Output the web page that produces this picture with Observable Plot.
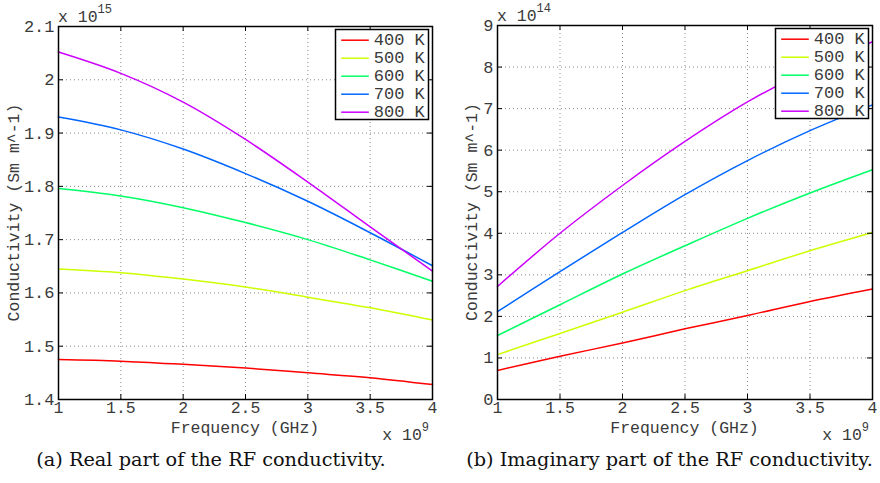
<!DOCTYPE html>
<html>
<head>
<meta charset="utf-8">
<script src="https://cdn.jsdelivr.net/npm/d3@7"></script>
<script src="https://cdn.jsdelivr.net/npm/@observablehq/plot@0.6"></script>
<style>
  html, body { margin: 0; padding: 0; background: #fff; }
  #wrap { position: relative; width: 880px; height: 483px; background: #fff; overflow: hidden; }
  .panel { position: absolute; top: 0; }
  .cap { position: absolute; top: 450px; font-family: "DejaVu Serif", serif; font-size: 19.3px; line-height: 19px; color: #111; text-align: center; white-space: nowrap; }
</style>
</head>
<body>
<div id="wrap">
  <div class="panel" id="pa" style="left:0px"></div>
  <div class="panel" id="pb" style="left:440px"></div>
  <div class="cap" id="ca" style="left:0px; width:422px;">(a) Real part of the RF conductivity.</div>
  <div class="cap" id="cb" style="left:459px; width:421px;">(b) Imaginary part of the RF conductivity.</div>
</div>
<script>
// ---- data ----
const freqs = [1, 1.5, 2, 2.5, 3, 3.5, 4];           // x 10^9 Hz
const temps = ["400 K", "500 K", "600 K", "700 K", "800 K"];
const colors = ["#ff0000", "#ccff00", "#00ff66", "#0066ff", "#cc00ff"];

// Real part (x 10^15 S m^-1)
const real400 = [1.475, 1.472, 1.466, 1.459, 1.450, 1.441, 1.428];
const real500 = [1.645, 1.638, 1.626, 1.611, 1.592, 1.572, 1.549];
const real600 = [1.796, 1.782, 1.760, 1.732, 1.700, 1.662, 1.622];
const real700 = [1.930, 1.906, 1.870, 1.824, 1.772, 1.713, 1.651];
const real800 = [2.052, 2.012, 1.958, 1.888, 1.808, 1.724, 1.641];

// Imaginary part (x 10^14 S m^-1)
const imag400 = [0.70, 1.04, 1.36, 1.70, 2.02, 2.36, 2.66];
const imag500 = [1.08, 1.59, 2.10, 2.62, 3.10, 3.58, 4.02];
const imag600 = [1.54, 2.28, 3.02, 3.70, 4.36, 4.97, 5.53];
const imag700 = [2.115, 3.08, 4.02, 4.93, 5.75, 6.47, 7.09];
const imag800 = [2.72, 4.00, 5.15, 6.21, 7.16, 7.95, 8.61];

const xTicks = [1, 1.5, 2, 2.5, 3, 3.5, 4];
const realTicks = [1.4, 1.5, 1.6, 1.7, 1.8, 1.9, 2, 2.1];
const imagTicks = [0, 1, 2, 3, 4, 5, 6, 7, 8, 9];

const xLabel = "Frequency (GHz)";
const yLabel = "Conductivity (Sm m^-1)";

// ---- drawing ----
const FONT = "'Liberation Mono', 'DejaVu Sans Mono', monospace";
const TXT = "#3a3a3a";
const FS = 16.5;

function makePanel({series, yTicks, yDomain, marginLeft, marginTop, yExp, ylabX}) {
  const W = 440, H = 445, mr = 8, mb = 46;
  const innerH = H - marginTop - mb;
  const innerW = W - marginLeft - mr;
  const data = temps.flatMap((t, i) => freqs.map((f, j) => ({f, v: series[i][j], t})));
  const tickLen = 5;
  const plot = Plot.plot({
    width: W, height: H,
    marginLeft, marginRight: mr, marginTop, marginBottom: mb,
    x: {domain: [1, 4]},
    y: {domain: yDomain},
    color: {domain: temps, range: colors},
    style: {fontFamily: FONT, fontSize: FS + "px", color: TXT, background: "white", overflow: "visible"},
    marks: [
      Plot.gridX(xTicks, {stroke: "#8a8a8a", strokeOpacity: 1, strokeDasharray: "1,3"}),
      Plot.gridY(yTicks, {stroke: "#8a8a8a", strokeOpacity: 1, strokeDasharray: "1,3"}),
      Plot.line(data, {x: "f", y: "v", stroke: "t", curve: "catmull-rom", strokeWidth: 1.5}),
      Plot.tickX(xTicks, {x: d => d, insetTop: innerH - tickLen, stroke: "#000"}),
      Plot.tickX(xTicks, {x: d => d, insetBottom: innerH - tickLen, stroke: "#000"}),
      Plot.tickY(yTicks, {y: d => d, insetRight: innerW - tickLen, stroke: "#000"}),
      Plot.tickY(yTicks, {y: d => d, insetLeft: innerW - tickLen, stroke: "#000"}),
      Plot.frame({stroke: "#000", strokeWidth: 1.5}),
      Plot.axisX({ticks: xTicks, tickSize: 0, tickPadding: 2, tickFormat: d => String(d), label: null, fontSize: 16.5}),
      Plot.axisY({ticks: yTicks, tickSize: 0, tickPadding: 4, tickFormat: d => String(d), label: null, fontSize: 17})
    ]
  });
  const svg = d3.select(plot);
  const fl = marginLeft, fr = W - mr, ft = marginTop, fb = H - mb;
  const g = svg.append("g").attr("font-family", FONT).attr("fill", TXT);

  // x axis label
  g.append("text").attr("x", (fl + fr) / 2).attr("y", fb + 34)
    .attr("text-anchor", "middle").attr("font-size", FS).text(xLabel);
  // y axis label
  g.append("text").attr("transform", `translate(${ylabX},${(ft + fb) / 2}) rotate(-90)`)
    .attr("text-anchor", "middle").attr("dominant-baseline", "central").attr("font-size", FS).text(yLabel);
  // top exponent
  const te = g.append("text").attr("x", fl).attr("y", ft - 4).attr("text-anchor", "start").attr("font-size", FS);
  te.append("tspan").text("x 10");
  te.append("tspan").attr("dy", -9).attr("font-size", 12).text(yExp);
  // bottom exponent
  const be = g.append("text").attr("x", fr - 3).attr("y", fb + 41).attr("text-anchor", "end").attr("font-size", FS);
  be.append("tspan").text("x 10");
  be.append("tspan").attr("dy", -9).attr("font-size", 12).text("9");

  // legend
  const lw = 93, lh = 90;
  const lx = fr - 3.5 - lw, ly = ft + 3.5;
  const lg = svg.append("g").attr("transform", `translate(${lx},${ly})`);
  lg.append("rect").attr("width", lw).attr("height", lh).attr("fill", "#fff").attr("stroke", "#000").attr("stroke-width", 1.5);
  temps.forEach((t, i) => {
    const yy = 10.7 + i * 18;
    lg.append("line").attr("x1", 5.7).attr("x2", 33.3).attr("y1", yy).attr("y2", yy)
      .attr("stroke", colors[i]).attr("stroke-width", 1.5);
    lg.append("text").attr("x", 38.3).attr("y", yy).attr("dominant-baseline", "central")
      .attr("text-anchor", "start")
      .attr("font-family", FONT).attr("font-size", 17).attr("fill", TXT).text(t);
  });
  return plot;
}

document.getElementById("pa").appendChild(makePanel({
  series: [real400, real500, real600, real700, real800],
  yTicks: realTicks, yDomain: [1.4, 2.1], marginLeft: 58, marginTop: 26, yExp: "15", ylabX: 14
}));
document.getElementById("pb").appendChild(makePanel({
  series: [imag400, imag500, imag600, imag700, imag800],
  yTicks: imagTicks, yDomain: [0, 9], marginLeft: 57, marginTop: 25, yExp: "14", ylabX: 32.5
}));
</script>
</body>
</html>
